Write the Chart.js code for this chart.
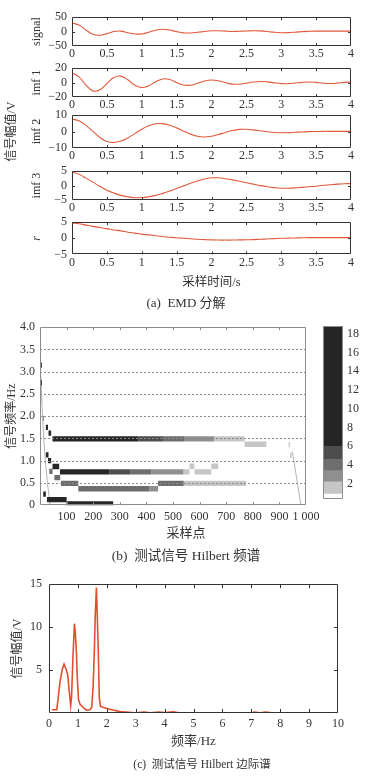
<!DOCTYPE html>
<html lang="zh">
<head>
<meta charset="utf-8">
<title>EMD 分解与 Hilbert 谱</title>
<script src="https://cdn.jsdelivr.net/npm/chart.js@4.4.1/dist/chart.umd.min.js"></script>
<style>
  html, body { margin: 0; padding: 0; background: #fff; overflow: hidden; }
  #page { position: relative; width: 372px; height: 780px; overflow: hidden; background: #fff; }
  canvas { position: absolute; }
</style>
</head>
<body>
<div id="page"></div>
<script>
// ---- (a) EMD 分解：采样时间 (s) 与各分量 ----
const tSec = [0, 0.1, 0.2, 0.3, 0.4, 0.5, 0.6, 0.7, 0.8, 0.9, 1.0, 1.1, 1.2, 1.3, 1.4, 1.5, 1.6, 1.7, 1.8, 1.9, 2.0,
              2.1, 2.2, 2.3, 2.4, 2.5, 2.6, 2.7, 2.8, 2.9, 3.0, 3.1, 3.2, 3.3, 3.4, 3.5, 3.6, 3.7, 3.8, 3.9, 4.0];
const signalV = [30, 22.7, 5.7, -9.3, -12.6, -7.1, 0.1, 1.7, -4.1, -8.2, -8.2, -2.4, 4.8, 8, 5.5, 0, -4.3, -4.7, -2.5, 0.5, 2.7,
                 2.9, 1.5, 0.5, 1.0, 2.2, 3.0, 2.5, 0.5, -2.5, -4.0, -3.6, -2.0, 0, 1.0, 1.5, 1.5, 1.5, 1.5, 1.5, 1.5];
const imf1V = [13.3, 8.0, -3.4, -11.5, -9.9, -1.35, 7.2, 9.0, 3.9, -3.5, -6.9, -4.3, 1.2, 5.1, 4.2, 0.2, -3.4, -3.6, -1.0, 2.2, 3.6,
               2.5, -0.1, -2.1, -2.2, -0.8, 0.8, 1.6, 1.0, -0.4, -1.4, -1.5, -0.66, 0.34, 0.8, 0.3, -0.7, -1.2, -0.7, 0.3, 0.8];
const imf2V = [7.5, 6.5, 3.7, 0.05, -3.6, -6.1, -6.7, -5.8, -3.9, -1.3, 1.4, 3.5, 4.7, 4.8, 3.8, 2.2, 0.2, -1.6, -2.9, -3.3, -2.85,
               -1.8, -0.55, 0.6, 1.3, 1.36, 1.0, 0.45, -0.15, -0.6, -0.8, -0.7, -0.5, -0.3, -0.1, 0.0, 0.1, 0.1, 0.1, 0.1, 0.1];
const imf3V = [4.8, 3.9, 2.6, 1.2, -0.3, -1.6, -2.6, -3.4, -3.9, -4.2, -4.2, -3.9, -3.4, -2.7, -1.9, -1.0, -0.1, 0.8, 1.6, 2.3, 2.7,
               2.7, 2.4, 2.0, 1.5, 1.0, 0.5, 0.0, -0.4, -0.7, -0.9, -0.9, -0.8, -0.6, -0.4, -0.2, 0.1, 0.3, 0.5, 0.65, 0.7];
const resV = [4.8, 4.5, 4.1, 3.7, 3.35, 3.0, 2.6, 2.3, 1.9, 1.6, 1.3, 1.05, 0.8, 0.55, 0.35, 0.15, 0.0, -0.15, -0.3, -0.4, -0.5,
              -0.55, -0.55, -0.55, -0.5, -0.45, -0.4, -0.3, -0.2, -0.1, 0.0, 0.05, 0.1, 0.15, 0.2, 0.2, 0.2, 0.2, 0.2, 0.2, 0.2];

// ---- (b) Hilbert 频谱：水平色块 (起点, 终点, 频率, 灰度级) ----
const segStart = [47, 369, 462, 544, 654, 769, 75, 260, 341, 419, 539, 581, 562, 644, 79, 444, 540, 144, 410, 26, 100,
                  2, 2, 4, 7, 11, 22, 32, 22, 30, 47, 35, 54, 12, 935, 940];
const segEnd   = [369, 462, 544, 654, 769, 851, 260, 341, 419, 539, 562, 644, 580, 670, 144, 540, 775, 410, 444, 100, 275,
                  7, 7, 9, 11, 15, 30, 42, 32, 42, 72, 47, 76, 22, 940, 946];
const segFreq  = [1.49, 1.49, 1.49, 1.49, 1.49, 1.37, 0.75, 0.75, 0.75, 0.75, 0.75, 0.75, 0.875, 0.875, 0.49, 0.49, 0.49, 0.37, 0.37, 0.125, 0.03,
                  3.15, 2.75, 2.4, 2.1, 1.95, 1.75, 1.62, 1.13, 1.0, 0.87, 0.76, 0.62, 0.25, 1.36, 1.12];
const segLevel = [5, 4, 3, 2, 1, 1, 5, 4, 3, 2, 1, 1, 1, 1, 3, 3, 1, 3, 2, 5, 5,
                  5, 5, 1, 1, 2, 5, 5, 5, 5, 5, 3, 3, 5, 1, 1];
const grayLevels = ['#ffffff', '#c6c6c6', '#8f8f8f', '#6e6e6e', '#4d4d4d', '#262626'];
const traceLeftX = [3, 8, 14, 20, 28, 38];
const traceLeftF = [2.9, 2.2, 1.5, 1.0, 0.5, 0.0];
const traceRightX = [949, 981];
const traceRightF = [1.2, 0.0];
// 色标分段边界
const barBounds = [0.4, 0.9, 2.2, 3.4, 4.6, 6.0, 18.8];

// ---- (c) Hilbert 边际谱 ----
const margFreq = [0.1, 0.27, 0.32, 0.38, 0.46, 0.52, 0.59, 0.65, 0.69, 0.75, 0.78, 0.83, 0.88, 0.91, 0.95, 0.98, 1.02, 1.07, 1.19, 1.3,
                  1.42, 1.48, 1.53, 1.57, 1.6, 1.64, 1.67, 1.71, 1.74, 1.78, 1.94, 2.17, 2.46, 2.86, 3.0, 3.3, 3.5, 3.8, 4.0, 4.3,
                  4.5, 7.0, 7.1, 7.3, 7.5, 7.7, 10];
const margAmp  = [0.37, 0.37, 1.8, 3.6, 5.1, 5.7, 5.1, 4.4, 2.9, 0.85, 1.8, 6.6, 10.4, 9.4, 7.0, 4.0, 1.6, 1.04, 0.6, 0.33,
                  0.37, 0.67, 3.3, 7.4, 11.4, 14.6, 11.4, 6.6, 1.8, 0.75, 0.56, 0.37, 0.15, 0.05, 0.02, 0.1, 0.02, 0.1, 0.05, 0.12,
                  0.02, 0.0, 0.1, 0.0, 0.1, 0.0, 0.0];

const SERIF = "'Liberation Serif', 'Noto Sans CJK SC', serif";
const INK = '#333';
const RED = '#e2583a';

// 边框 + 向内刻度 (+ 虚线网格)
const framePlugin = {
    id: 'frame',
    afterDatasetsDraw(chart, args, opt) {
        const { ctx, chartArea: a, scales } = chart;
        ctx.save();
        ctx.lineWidth = 1;
        if (opt.dash) {
            const ys = scales.y;
            ctx.strokeStyle = opt.dash;
            ctx.setLineDash([2, 2]);
            ctx.beginPath();
            ys.ticks.forEach(t => {
                if (t.value <= ys.min || t.value >= ys.max) return;
                const py = Math.round(ys.getPixelForValue(t.value)) + 0.5;
                ctx.moveTo(a.left, py);
                ctx.lineTo(a.right, py);
            });
            ctx.stroke();
            ctx.setLineDash([]);
        }
        ctx.strokeStyle = opt.color;
        ctx.beginPath();
        const len = opt.tick || 0;
        if (len) {
            const xs = scales.x, ys = scales.y;
            xs.ticks.forEach(t => {
                if (t.value <= xs.min || t.value >= xs.max) return;
                const px = Math.round(xs.getPixelForValue(t.value)) + 0.5;
                ctx.moveTo(px, a.top); ctx.lineTo(px, a.top + len);
                ctx.moveTo(px, a.bottom); ctx.lineTo(px, a.bottom - len);
            });
            if (opt.yTicks !== false) {
                ys.ticks.forEach(t => {
                    if (t.value <= ys.min || t.value >= ys.max) return;
                    const py = Math.round(ys.getPixelForValue(t.value)) + 0.5;
                    ctx.moveTo(a.left, py); ctx.lineTo(a.left + len, py);
                    ctx.moveTo(a.right, py); ctx.lineTo(a.right - len, py);
                });
            }
        }
        const l = Math.round(a.left), t = Math.round(a.top), r = Math.round(a.right), b = Math.round(a.bottom);
        ctx.rect(l + 0.5, t + 0.5, r - l - 1, b - t - 1);
        ctx.stroke();
        ctx.restore();
    }
};

function addCanvas(left, top, w, h) {
    const c = document.createElement('canvas');
    c.width = w;
    c.height = h;
    c.style.left = left + 'px';
    c.style.top = top + 'px';
    document.getElementById('page').appendChild(c);
    return c;
}

const noGrid = { display: false, drawTicks: false };
const noBorder = { display: false };
const baseOptions = {
    responsive: false,
    animation: false,
    events: [],
    plugins: { legend: { display: false }, tooltip: { enabled: false } }
};

// 一个 EMD 子图
function emdPanel(p) {
    const padTop = p.padTop || 8;
    const capH = p.caption ? 21.6 : 0;
    const h = Math.round(padTop + p.plotH + p.axisH + capH);
    const canvas = addCanvas(0, p.plotTop - padTop, 372, h);
    const yW = p.bigLabel ? 48 : 72;
    const yLeft = p.bigLabel ? 24 : 0;

    const scales = {
        x: {
            type: 'linear', min: 0, max: 4,
            afterFit: s => { s.height = p.axisH; },
            grid: noGrid, border: noBorder,
            ticks: { stepSize: 0.5, autoSkip: false, maxRotation: 0, padding: 1, color: INK,
                     font: { family: SERIF, size: 12 }, callback: v => String(v) },
            title: p.xTitle
                ? { display: true, text: p.xTitle, color: INK, font: { family: SERIF, size: 12.5 }, padding: { top: 0, bottom: 1 } }
                : { display: false }
        },
        y: {
            type: 'linear', min: -p.lim, max: p.lim,
            afterFit: s => { s.width = yW; },
            grid: noGrid, border: noBorder,
            ticks: { stepSize: p.lim, autoSkip: false, padding: 5, color: INK, font: { family: SERIF, size: 12 },
                     callback: v => v < 0 ? '−' + Math.abs(v) : String(v) },
            title: { display: true, text: p.name, color: INK,
                     font: { family: SERIF, size: 12, style: p.italic ? 'italic' : 'normal' },
                     padding: { top: 37 - yLeft - 7.2, bottom: 0 } }
        },
        yr: {
            type: 'linear', position: 'right', display: true,
            afterFit: s => { s.width = 21; },
            grid: noGrid, border: noBorder, ticks: { display: false }
        }
    };
    if (p.bigLabel) {
        scales.y2 = {
            type: 'linear', position: 'left', weight: 1, display: true,
            afterFit: s => { s.width = 24; },
            grid: noGrid, border: noBorder, ticks: { display: false },
            title: { display: true, text: p.bigLabel, color: INK, font: { family: SERIF, size: 12 },
                     padding: { top: 12 - 7.2, bottom: 0 } }
        };
    }

    new Chart(canvas.getContext('2d'), {
        type: 'line',
        data: {
            datasets: [{
                data: tSec.map((t, i) => ({ x: t, y: p.values[i] })),
                borderColor: RED,
                borderWidth: 1.1,
                pointRadius: 0,
                tension: 0.4,
                fill: false
            }]
        },
        options: {
            ...baseOptions,
            layout: { padding: { top: padTop, left: 0, right: 0, bottom: 0 } },
            scales: scales,
            plugins: {
                ...baseOptions.plugins,
                frame: { color: INK, tick: 3 },
                title: p.caption
                    ? { display: true, position: 'bottom', text: p.caption, color: INK,
                        font: { family: SERIF, size: 13, weight: 'normal' }, padding: { top: 4, bottom: 2 } }
                    : { display: false }
            }
        },
        plugins: [framePlugin]
    });
}

emdPanel({ values: signalV, plotTop: 13, plotH: 33, axisH: 16, lim: 50, name: 'signal' });
emdPanel({ values: imf1V, plotTop: 64, plotH: 33.3, axisH: 16, lim: 20, name: 'imf 1' });
emdPanel({ values: imf2V, plotTop: 115, plotH: 33, axisH: 27, padTop: 20, lim: 10, name: 'imf 2', bigLabel: '信号幅值/V' });
emdPanel({ values: imf3V, plotTop: 167, plotH: 33, axisH: 16, lim: 5, name: 'imf 3' });
emdPanel({ values: resV, plotTop: 218, plotH: 36.5, axisH: 37, lim: 5, name: 'r', italic: true,
           xTitle: '采样时间/s', caption: '(a)  EMD 分解' });

// ---- (b) Hilbert 频谱 ----
const hilbertSets = segStart.map((s, i) => ({
    data: [{ x: s, y: segFreq[i] }, { x: segEnd[i], y: segFreq[i] }],
    borderColor: grayLevels[segLevel[i]],
    borderWidth: 5.3,
    borderCapStyle: 'butt',
    pointRadius: 0,
    fill: false
}));
hilbertSets.push(
    { data: traceLeftX.map((x, i) => ({ x: x, y: traceLeftF[i] })), borderColor: '#b4b4b4', borderWidth: 1, pointRadius: 0 },
    { data: traceRightX.map((x, i) => ({ x: x, y: traceRightF[i] })), borderColor: '#b4b4b4', borderWidth: 1, pointRadius: 0 }
);

new Chart(addCanvas(0, 315, 372, 252).getContext('2d'), {
    type: 'line',
    data: { datasets: hilbertSets },
    options: {
        ...baseOptions,
        layout: { padding: { top: 8, left: 0, right: 0, bottom: 0 } },
        scales: {
            x: {
                type: 'linear', min: 0, max: 1000,
                afterFit: s => { s.height = 16; },
                grid: noGrid, border: noBorder,
                ticks: { stepSize: 100, autoSkip: false, maxRotation: 0, padding: 4, color: INK,
                         font: { family: SERIF, size: 12 },
                         callback: v => v === 0 ? '' : (v === 1000 ? '1 000' : String(v)) }
            },
            y: {
                type: 'linear', min: 0, max: 4,
                afterFit: s => { s.width = 40; },
                grid: noGrid, border: noBorder,
                ticks: { stepSize: 0.5, autoSkip: false, padding: 5, color: INK, font: { family: SERIF, size: 12 },
                         callback: v => v === 0 ? '0' : v.toFixed(1) },
                title: { display: true, text: '信号频率/Hz', color: INK, font: { family: SERIF, size: 12 },
                         padding: { top: 12 - 7.2, bottom: 0 } }
            },
            yr: {
                type: 'linear', position: 'right', display: true,
                afterFit: s => { s.width = 66; },
                grid: noGrid, border: noBorder, ticks: { display: false }
            }
        },
        plugins: {
            ...baseOptions.plugins,
            frame: { color: '#8c8c8c', tick: 3, yTicks: false, dash: '#8a8a8a' },
            subtitle: { display: true, position: 'bottom', text: '采样点', color: INK,
                        font: { family: SERIF, size: 13 }, padding: { top: 5, bottom: 0 } },
            title: { display: true, position: 'bottom', text: '(b)  测试信号 Hilbert 频谱', color: INK,
                     font: { family: SERIF, size: 13.5, weight: 'normal' }, padding: { top: 7, bottom: 2 } }
        }
    },
    plugins: [framePlugin]
});

// 色标
new Chart(addCanvas(318, 315, 54, 195).getContext('2d'), {
    type: 'bar',
    data: {
        labels: [''],
        datasets: grayLevels.map((c, i) => ({
            data: [[barBounds[i], barBounds[i + 1]]],
            backgroundColor: c,
            borderWidth: 0,
            grouped: false,
            categoryPercentage: 1,
            barPercentage: 1
        }))
    },
    options: {
        ...baseOptions,
        layout: { padding: { top: 8, left: 5, right: 0, bottom: 6.5 } },
        scales: {
            x: { display: false },
            y: {
                type: 'linear', position: 'right', min: barBounds[0], max: barBounds[barBounds.length - 1],
                afterFit: s => { s.width = 29; },
                afterBuildTicks: s => { s.ticks = s.ticks.filter(t => t.value > 1 && t.value < 18.5 && t.value % 2 === 0); },
                grid: noGrid, border: noBorder,
                ticks: { stepSize: 2, includeBounds: false, autoSkip: false, padding: 4, color: INK,
                         font: { family: SERIF, size: 12 } }
            }
        },
        plugins: {
            ...baseOptions.plugins,
            frame: { color: '#8c8c8c', tick: 0 }
        }
    },
    plugins: [framePlugin]
});

// ---- (c) Hilbert 边际谱 ----
new Chart(addCanvas(0, 569.5, 404, 204).getContext('2d'), {
    type: 'line',
    data: {
        datasets: [{
            data: margFreq.map((f, i) => ({ x: f, y: margAmp[i] })),
            borderColor: '#e0502c',
            borderWidth: 1.6,
            pointRadius: 0,
            tension: 0,
            fill: false
        }]
    },
    options: {
        ...baseOptions,
        layout: { padding: { top: 8, left: 0, right: 0, bottom: 0 } },
        scales: {
            x: {
                type: 'linear', min: 0, max: 10,
                afterFit: s => { s.height = 37.3; },
                grid: noGrid, border: noBorder,
                ticks: { stepSize: 1, autoSkip: false, maxRotation: 0, padding: 4, color: INK,
                         font: { family: SERIF, size: 12 } },
                title: { display: true, text: '频率/Hz', color: INK, font: { family: SERIF, size: 13 },
                         padding: { top: 0, bottom: 1 } }
            },
            y: {
                type: 'linear', min: 0, max: 15,
                afterFit: s => { s.width = 49; },
                grid: noGrid, border: noBorder,
                ticks: { stepSize: 5, autoSkip: false, padding: 7, color: INK, font: { family: SERIF, size: 12 },
                         callback: v => v === 0 ? '' : String(v) },
                title: { display: true, text: '信号幅值/V', color: INK, font: { family: SERIF, size: 12 },
                         padding: { top: 18 - 7.2, bottom: 0 } }
            },
            yr: {
                type: 'linear', position: 'right', display: true,
                afterFit: s => { s.width = 66; },
                grid: noGrid, border: noBorder, ticks: { display: false }
            }
        },
        plugins: {
            ...baseOptions.plugins,
            frame: { color: INK, tick: 4 },
            title: { display: true, position: 'bottom', text: '(c)  测试信号 Hilbert 边际谱', color: INK,
                     font: { family: SERIF, size: 11.5, weight: 'normal' }, padding: { top: 8, bottom: 2 } }
        }
    },
    plugins: [framePlugin]
});
</script>
</body>
</html>
